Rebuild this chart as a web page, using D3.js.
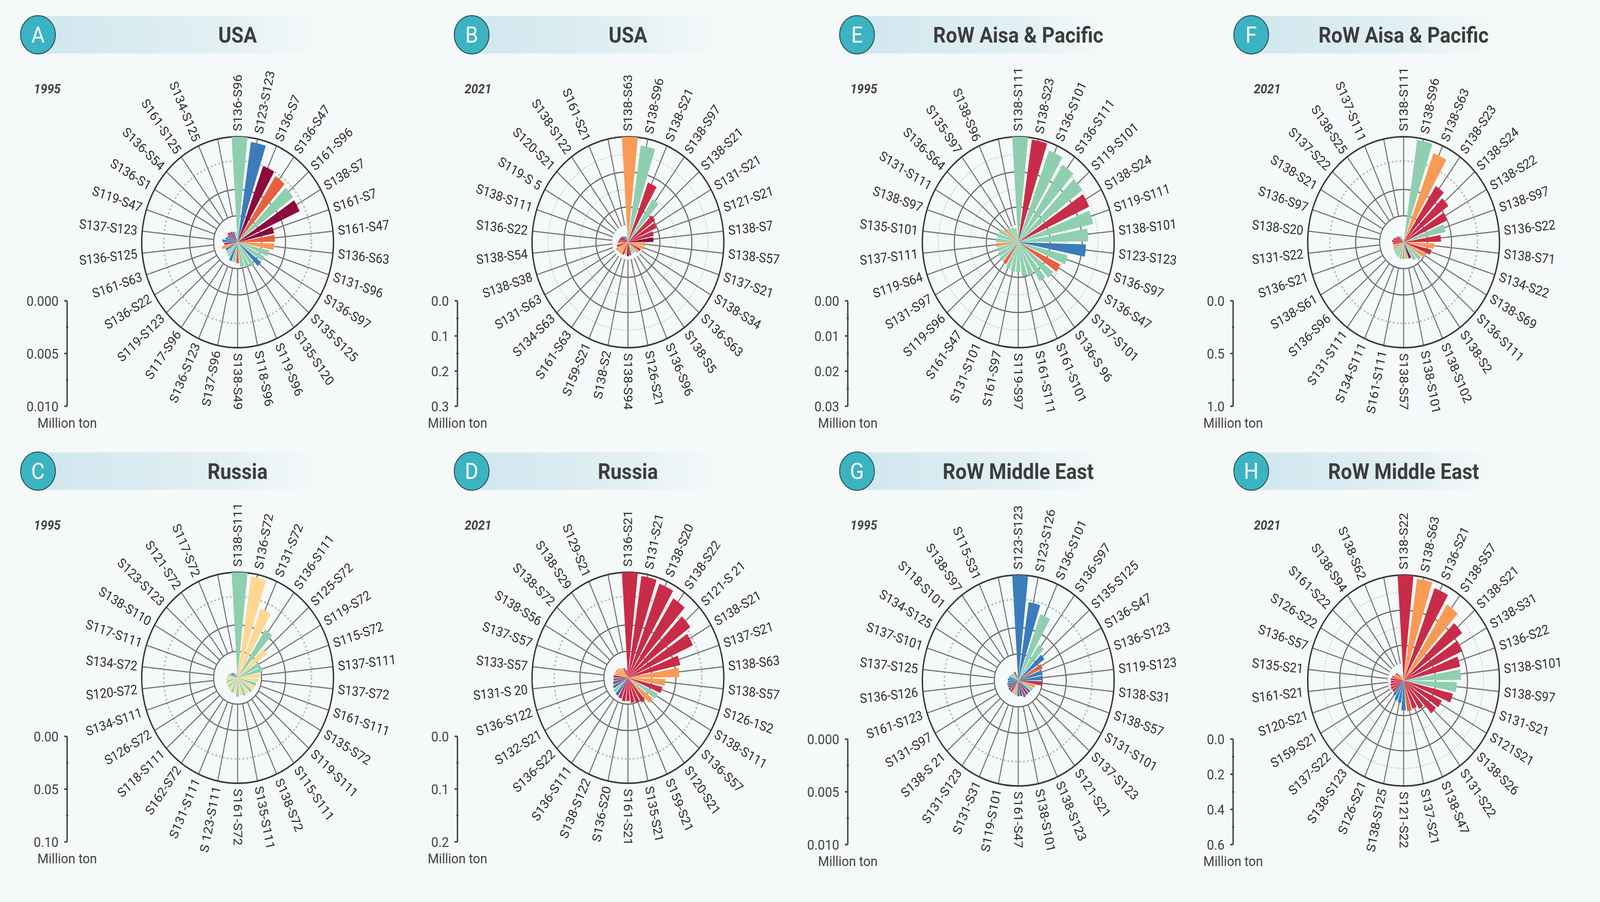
<!DOCTYPE html>
<html>
<head>
<meta charset="utf-8">
<script src="https://cdn.jsdelivr.net/npm/d3@7"></script>
<style>
  html, body { margin: 0; padding: 0; overflow: hidden; background: #f5f9f9; }
  svg { display: block; width: 100vw; height: 100vh; font-family: Roboto, "Noto Sans", sans-serif; }
</style>
</head>
<body>
<svg id="chart" viewBox="0 0 4505 2309" preserveAspectRatio="none"></svg>
<script>
// palette keys used by the bar colour arrays
const palette = {
  G: '#8fcfb0', B: '#3a7dba', K: '#8c0a3e', O: '#e8603f',
  Y: '#f99a55', R: '#c92c48', L: '#fed893'
};

// ---- panel A : USA 1995
const labelsA = ['S136-S96','S123-S123','S136-S7','S136-S47','S161-S96','S138-S7','S161-S7','S161-S47','S136-S63','S131-S96','S136-S97','S135-S125','S135-S120','S119-S96','S118-S96','S138-S49','S137-S96','S136-S123','S117-S96','S119-S123','S136-S22','S161-S63','S136-S125','S137-S123','S119-S47','S136-S1','S136-S54','S161-S125','S134-S125',''];
const valuesA = [0.0100,0.0096,0.0077,0.0074,0.0072,0.0071,0.0039,0.0039,0.0038,0.0034,0.0031,0.0031,0.0027,0.0025,0.0024,0.0020,0.0019,0.0019,0.0016,0.0015,0.0014,0.0017,0.0014,0.0016,0.0013,0.0012,0.0013,0.0012,0.0011,0.0010];
const colorsA = 'GBKOGKKOYGGBGGGOGBGGBYRBBBRRBG';
const ticksA = [0, 0.005, 0.010];

// ---- panel B : USA 2021
const labelsB = ['S138-S63','S138-S96','S138-S21','S138-S97','S138-S21','S131-S21','S121-S21','S138-S7','S138-S57','S137-S21','S138-S34','S136-S63','S138-S5','S136-S96','S126-S21','S138-S94','S138-S2','S159-S21','S161-S63','S134-S63','S131-S63','S138-S38','S138-S54','S136-S22','S138-S111','S119-S 5','S120-S21','S138-S122','S161-S21',''];
const valuesB = [0.300,0.278,0.181,0.145,0.106,0.098,0.083,0.080,0.056,0.051,0.045,0.042,0.035,0.034,0.038,0.040,0.035,0.038,0.040,0.040,0.042,0.036,0.034,0.030,0.028,0.026,0.024,0.020,0.018,0.015];
const colorsB = 'YGRGRRRKYYRYGGRKYRYYYRYRRKRBBG';
const ticksB = [0, 0.1, 0.2, 0.3];

// ---- panel C : Russia 1995
const labelsC = ['S138-S111','S136-S72','S131-S72','S136-S111','S125-S72','S119-S72','S115-S72','S137-S111','S137-S72','S161-S111','S135-S72','S119-S111','S115-S111','S138-S72','S135-S111','S161-S72','S 123-S111','S131-S111','S162-S72','S118-S111','S126-S72','S134-S111','S120-S72','S134-S72','S117-S111','S138-S110','S123-S123','S121-S72','S117-S72',''];
const valuesC = [0.100,0.097,0.070,0.054,0.038,0.026,0.027,0.023,0.022,0.020,0.020,0.019,0.018,0.018,0.017,0.018,0.015,0.015,0.014,0.013,0.013,0.012,0.012,0.011,0.010,0.008,0.007,0.006,0.005,0.004];
const colorsC = 'GLLGLGGLLGLGLGLGLGLGLGLLGBBLGG';
const ticksC = [0, 0.05, 0.10];

// ---- panel D : Russia 2021
const labelsD = ['S136-S21','S131-S21','S138-S20','S138-S22','S121-S 21','S138-S21','S137-S21','S138-S63','S138-S57','S126-1S2','S138-S111','S136-S57','S120-S21','S159-S21','S135-S21','S161-S21','S136-S20','S138-S122','S136-S111','S136-S22','S132-S21','S136-S122','S131-S 20','S133-S57','S137-S57','S138-S56','S138-S72','S138-S29','S129-S21',''];
const valuesD = [0.200,0.195,0.190,0.178,0.162,0.149,0.112,0.107,0.078,0.074,0.069,0.066,0.055,0.050,0.048,0.044,0.045,0.042,0.040,0.038,0.035,0.032,0.030,0.030,0.028,0.028,0.026,0.022,0.020,0.015];
const colorsD = 'RRRRRRRYYRGYRRRRRRBGBRBRYYYYRR';
const ticksD = [0, 0.1, 0.2];

// ---- panel E : RoW Asia & Pacific 1995
const labelsE = ['S138-S111','S138-S23','S136-S101','S136-S111','S119-S101','S138-S24','S119-S111','S138-S101','S123-S123','S136-S97','S136-S47','S137-S101','S136-S 96','S161-S101','S161-S111','S119-S97','S161-S97','S131-S101','S161-S47','S119-S96','S131-S97','S119-S64','S137-S111','S135-S101','S138-S97','S131-S111','S136-S64','S135-S97','S138-S96',''];
const valuesE = [0.0300,0.0295,0.0278,0.0260,0.0249,0.0244,0.0240,0.0219,0.0212,0.0159,0.0146,0.0138,0.0130,0.0100,0.0098,0.0084,0.0085,0.0080,0.0073,0.0072,0.0070,0.0068,0.0069,0.0070,0.0068,0.0066,0.0055,0.0050,0.0045,0.0040];
const colorsE = 'GRGGGRGGBGOGGGGGGGOGGGYGGGYGGG';
const ticksE = [0, 0.01, 0.02, 0.03];

// ---- panel F : RoW Asia & Pacific 2021
const labelsF = ['S138-S111','S138-S96','S138-S63','S138-S23','S138-S24','S138-S22','S138-S97','S136-S22','S138-S71','S134-S22','S138-S69','S136-S111','S138-S2','S138-S102','S138-S101','S138-S57','S161-S111','S134-S111','S131-S111','S136-S96','S138-S61','S136-S21','S131-S22','S138-S20','S136-S97','S138-S21','S137-S22','S138-S25','S137-S111',''];
const valuesF = [0.02,0.98,0.90,0.63,0.58,0.50,0.45,0.39,0.32,0.30,0.26,0.23,0.20,0.165,0.16,0.16,0.16,0.15,0.14,0.13,0.12,0.11,0.11,0.12,0.11,0.09,0.08,0.07,0.06,0.03];
const colorsF = 'GGYRRRGRYRYGGKGYGGGGYYRRRRRGGG';
const ticksF = [0, 0.5, 1.0];

// ---- panel G : RoW Middle East 1995
const labelsG = ['S123-S123','S123-S126','S136-S101','S136-S97','S135-S125','S136-S47','S136-S123','S119-S123','S138-S31','S138-S57','S131-S101','S137-S123','S121-S21','S138-S123','S138-S101','S161-S47','S119-S101','S131-S31','S131-S123','S138-S 21','S131-S97','S161-S123','S136-S126','S137-S125','S137-S101','S134-S125','S118-S101','S138-S97','S115-S31',''];
const valuesG = [0.0100,0.0075,0.0067,0.0040,0.0034,0.0028,0.0026,0.0025,0.0025,0.0018,0.0017,0.0016,0.0016,0.0017,0.0015,0.0015,0.0014,0.0013,0.0013,0.0013,0.0012,0.0012,0.0011,0.0011,0.0010,0.0010,0.0009,0.0009,0.0009,0.0006];
const colorsG = 'BBGGBOBBRYGBRBRBGYRBRBBBBGGGRG';
const ticksG = [0, 0.005, 0.010];

// ---- panel H : RoW Middle East 2021
const labelsH = ['S138-S22','S138-S63','S136-S21','S138-S57','S138-S21','S138-S31','S136-S22','S138-S101','S138-S97','S131-S21','S121S21','S138-S26','S131-S22','S138-S47','S137-S21','S121-S22','S138-S125','S126-S21','S138-S123','S137-S22','S159-S21','S120-S21','S161-S21','S135-S21','S136-S57','S126-S22','S161-S22','S138-S94','S138-S62',''];
const valuesH = [0.600,0.585,0.560,0.510,0.455,0.405,0.363,0.360,0.333,0.317,0.265,0.255,0.190,0.170,0.176,0.170,0.130,0.120,0.100,0.090,0.090,0.085,0.080,0.080,0.075,0.065,0.060,0.050,0.040,0.030];
const colorsH = 'RYRYRRRGGRRRRROBBBBRRRRROYRLGG';
const ticksH = [0, 0.2, 0.4, 0.6];

const panels = [
  { letter: 'A', title: 'USA', year: '1995', labels: labelsA, values: valuesA, colors: colorsA, ticks: ticksA, fmt: '.3f', grid: 'quarter', cx: 669, cy: 620 },
  { letter: 'B', title: 'USA', year: '2021', labels: labelsB, values: valuesB, colors: colorsB, ticks: ticksB, fmt: '.1f', grid: 'sixth', cx: 1768, cy: 620 },
  { letter: 'E', title: 'RoW Aisa & Pacific', year: '1995', labels: labelsE, values: valuesE, colors: colorsE, ticks: ticksE, fmt: '.2f', grid: 'sixth', cx: 2867, cy: 620 },
  { letter: 'F', title: 'RoW Aisa & Pacific', year: '2021', labels: labelsF, values: valuesF, colors: colorsF, ticks: ticksF, fmt: '.1f', grid: 'quarter', cx: 3952, cy: 620 },
  { letter: 'C', title: 'Russia', year: '1995', labels: labelsC, values: valuesC, colors: colorsC, ticks: ticksC, fmt: '.2f', grid: 'quarter', cx: 669, cy: 1735 },
  { letter: 'D', title: 'Russia', year: '2021', labels: labelsD, values: valuesD, colors: colorsD, ticks: ticksD, fmt: '.1f', grid: 'quarter', cx: 1768, cy: 1735 },
  { letter: 'G', title: 'RoW Middle East', year: '1995', labels: labelsG, values: valuesG, colors: colorsG, ticks: ticksG, fmt: '.3f', grid: 'quarter', cx: 2867, cy: 1742 },
  { letter: 'H', title: 'RoW Middle East', year: '2021', labels: labelsH, values: valuesH, colors: colorsH, ticks: ticksH, fmt: '.1f', grid: 'sixth', cx: 3952, cy: 1742 },
];

const svg = d3.select('#chart');
const R = 270;
const badgeX = { A: 107, B: 1328, E: 2413, F: 3523, C: 107, D: 1328, G: 2413, H: 3523 };
const yearX = { A: 133, B: 1346, E: 2432, F: 3568, C: 133, D: 1346, G: 2432, H: 3568 };

// gradient for the title bands
const defs = svg.append('defs');
const grad = defs.append('linearGradient').attr('id', 'band');
grad.append('stop').attr('offset', '0%').attr('stop-color', '#cfe7ee');
grad.append('stop').attr('offset', '60%').attr('stop-color', '#e3f0f3');
grad.append('stop').attr('offset', '100%').attr('stop-color', '#f5f9f9').attr('stop-opacity', 0);

panels.forEach(function (p) {
  const top = p.cy < 1000;
  const headY = top ? 89 : 1206;
  const g = svg.append('g');

  // header band, badge and title
  const bx = badgeX[p.letter];
  g.append('rect')
    .attr('x', bx).attr('y', headY - 48)
    .attr('width', p.cx + 340 - bx).attr('height', 96)
    .attr('fill', 'url(#band)');
  g.append('circle').attr('cx', bx).attr('cy', headY).attr('r', 49)
    .attr('fill', '#3bb3c3').attr('stroke', '#2f4f55').attr('stroke-width', 2.5);
  g.append('text').attr('x', bx).attr('y', headY + 20)
    .attr('text-anchor', 'middle').attr('font-size', 58).attr('fill', '#fff')
    .text(p.letter);
  g.append('text').attr('x', p.cx).attr('y', headY + 20)
    .attr('text-anchor', 'middle').attr('font-size', 56).attr('font-weight', 700)
    .attr('fill', '#3d3d3d').text(p.title);

  // year
  g.append('text').attr('x', yearX[p.letter]).attr('y', headY + 150)
    .attr('text-anchor', 'middle').attr('font-size', 34)
    .attr('font-weight', 700).attr('font-style', 'italic').attr('fill', '#444')
    .text(p.year);

  const maxV = p.ticks[p.ticks.length - 1];
  const rScale = d3.scaleLinear().domain([0, maxV]).range([0, R]);
  const n = p.labels.length;
  const step = 2 * Math.PI / n;
  const xScale = d3.scaleBand().domain(d3.range(n))
    .range([-step / 2, 2 * Math.PI - step / 2]).padding(0.2);

  const chart = g.append('g').attr('transform', `translate(${p.cx},${p.cy})`);

  // grid rings
  let rings;
  if (p.grid === 'quarter') {
    rings = [{ f: 0.25, dash: false }, { f: 0.5, dash: false }, { f: 0.77, dash: true }];
  } else {
    rings = [1, 2, 3, 4, 5].map((k) => ({ f: k / 6, dash: k % 2 === 1 }));
  }
  const spokeStart = rings[0].f * R;
  rings.forEach(function (ring) {
    chart.append('circle').attr('r', ring.f * R).attr('fill', 'none')
      .attr('stroke', ring.dash ? '#bdbdbd' : '#666')
      .attr('stroke-width', ring.dash ? (p.grid === 'quarter' ? 4.5 : 2.5) : 3)
      .attr('stroke-dasharray', ring.dash ? (p.grid === 'quarter' ? '5,6' : '3,4') : null);
  });

  // spokes
  chart.selectAll('line.spoke').data(d3.range(n)).join('line')
    .attr('class', 'spoke')
    .attr('x1', (i) => spokeStart * Math.sin(i * step))
    .attr('y1', (i) => -spokeStart * Math.cos(i * step))
    .attr('x2', (i) => R * Math.sin(i * step))
    .attr('y2', (i) => -R * Math.cos(i * step))
    .attr('stroke', '#777').attr('stroke-width', 3);

  chart.append('circle').attr('r', R).attr('fill', 'none')
    .attr('stroke', '#3a3a3a').attr('stroke-width', 4);

  // bars
  const arc = d3.arc().innerRadius(0)
    .outerRadius((d) => rScale(d.v))
    .startAngle((d) => xScale(d.i))
    .endAngle((d) => xScale(d.i) + xScale.bandwidth());
  chart.selectAll('path.bar')
    .data(p.values.map((v, i) => ({ v: v, i: i, c: palette[p.colors[i]] })))
    .join('path').attr('class', 'bar')
    .attr('d', arc).attr('fill', (d) => d.c);

  // radial labels
  chart.selectAll('text.lab').data(p.labels).join('text')
    .attr('class', 'lab')
    .attr('transform', function (d, i) {
      const deg = i * 360 / n;
      const rot = deg <= 180 ? deg - 90 : deg + 90;
      const a = i * step;
      return `translate(${(R + 14) * Math.sin(a)},${-(R + 14) * Math.cos(a)}) rotate(${rot})`;
    })
    .attr('text-anchor', (d, i) => (i * 360 / n <= 180 ? 'start' : 'end'))
    .attr('dominant-baseline', 'central')
    .attr('font-size', 34).attr('fill', '#333')
    .text((d) => d);

  // value legend
  const lx = p.cx - 480;
  const ly = p.cy + 150;
  const legScale = d3.scaleLinear().domain([0, maxV]).range([ly, ly + R]);
  const leg = g.append('g');
  leg.append('line').attr('x1', lx).attr('x2', lx)
    .attr('y1', ly).attr('y2', ly + R)
    .attr('stroke', '#444').attr('stroke-width', 4);
  const minor = d3.range(p.ticks.length - 1).map((k) => (p.ticks[k] + p.ticks[k + 1]) / 2);
  leg.selectAll('line.mj').data(p.ticks).join('line').attr('class', 'mj')
    .attr('x1', lx - 8).attr('x2', lx).attr('y1', (d) => legScale(d)).attr('y2', (d) => legScale(d))
    .attr('stroke', '#444').attr('stroke-width', 4);
  leg.selectAll('line.mn').data(minor).join('line').attr('class', 'mn')
    .attr('x1', lx - 3).attr('x2', lx + 3).attr('y1', (d) => legScale(d)).attr('y2', (d) => legScale(d))
    .attr('stroke', '#444').attr('stroke-width', 4);
  leg.selectAll('text.tk').data(p.ticks).join('text').attr('class', 'tk')
    .attr('x', lx - 24).attr('y', (d) => legScale(d))
    .attr('dominant-baseline', 'central').attr('text-anchor', 'end')
    .attr('font-size', 36).attr('fill', '#444')
    .text((d) => d3.format(p.fmt)(d));
  leg.append('text').attr('x', lx).attr('y', ly + R + 55)
    .attr('text-anchor', 'middle').attr('font-size', 36).attr('fill', '#444')
    .text('Million ton');
});
</script>
</body>
</html>
